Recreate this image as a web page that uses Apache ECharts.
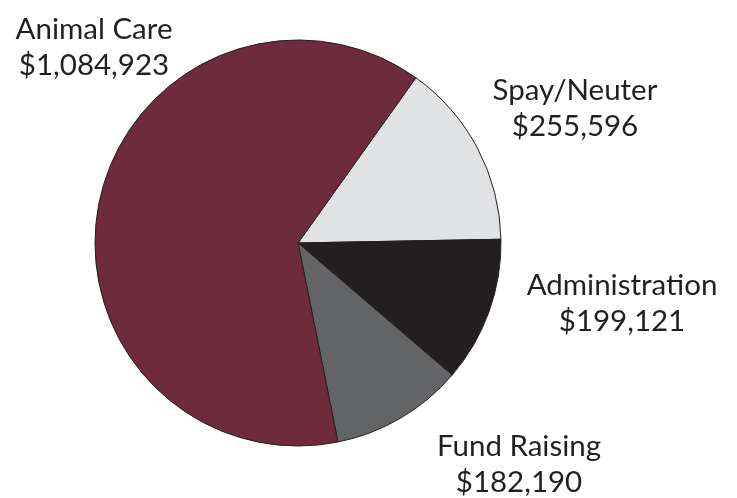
<!DOCTYPE html>
<html>
<head>
<meta charset="utf-8">
<script src="https://cdn.jsdelivr.net/npm/echarts@6/dist/echarts.min.js"></script>
<style>
html,body{margin:0;padding:0;background:#fff;}
#chart{width:737px;height:498px;}
</style>
</head>
<body>
<div id="chart"></div>
<script>
var categories = ['Spay/Neuter', 'Administration', 'Fund Raising', 'Animal Care'];
var values = [255596, 199121, 182190, 1084923];
var colors = ['#e1e2e4', '#231f20', '#636466', '#6e2b3d'];
// label anchor positions (px) per category
var labelPos = [[575, 108], [622, 303], [519, 464], [94, 47]];

function money(v) {
  return '$' + v.toString().replace(/\B(?=(\d{3})+(?!\d))/g, ',');
}

var chart = echarts.init(document.getElementById('chart'), null, {renderer: 'canvas'});
chart.setOption({
  animation: false,
  series: [{
    type: 'pie',
    center: [298, 243],
    radius: 203,
    startAngle: 54.5,
    clockwise: true,
    avoidLabelOverlap: false,
    silent: true,
    data: categories.map(function (c, i) {
      return {name: c, value: values[i], itemStyle: {color: colors[i]}};
    }),
    itemStyle: {borderColor: '#231f20', borderWidth: 1},
    label: {
      show: true,
      position: 'outside',
      formatter: function (p) { return p.name + '\n' + money(p.value); },
      fontFamily: 'Lato',
      fontSize: 29.5,
      lineHeight: 36,
      color: '#231f20',
      align: 'center'
    },
    labelLine: {show: false},
    labelLayout: function (params) {
      var pos = labelPos[params.dataIndex];
      return {x: pos[0], y: pos[1], align: 'center', verticalAlign: 'middle'};
    }
  }]
});
</script>
</body>
</html>
